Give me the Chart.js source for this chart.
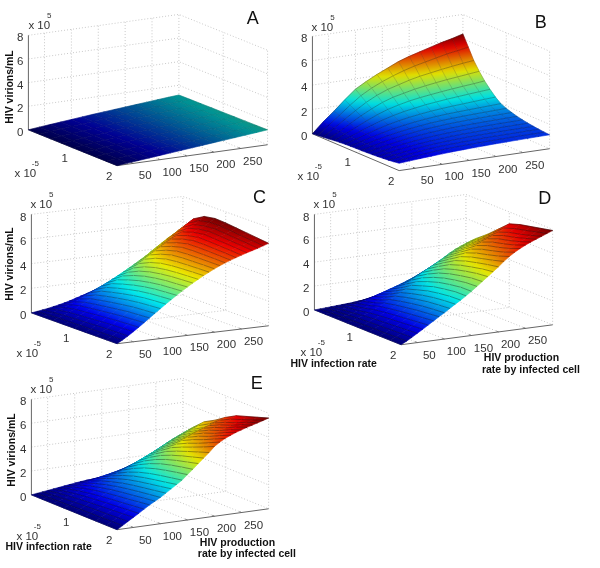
<!DOCTYPE html>
<html>
<head>
<meta charset="utf-8">
<title>HIV virions surfaces</title>
<script src="https://cdn.jsdelivr.net/npm/chart.js@4"></script>
<style>
html,body{margin:0;padding:0;background:#fff}
canvas{position:absolute}
</style>
</head>
<body>
<script>
// axis ticks
const zTicks = [0, 2, 4, 6, 8];
const pTicks = [50, 100, 150, 200, 250];
const bTicks = [1, 2];
const pRange = [20, 300];
const bRange = [0, 2];
const zTop = 8;

// grid positions of the surfaces (infection rate x 10^-5, production rate)
const bRows9 = [0, .25, .5, .75, 1, 1.25, 1.5, 1.75, 2];
const bRows17 = [0, .125, .25, .375, .5, .625, .75, .875, 1, 1.125, 1.25, 1.375, 1.5, 1.625, 1.75, 1.875, 2];
const pCols15 = [20, 40, 60, 80, 100, 120, 140, 160, 180, 200, 220, 240, 260, 280, 300];
const pCols29 = [20, 30, 40, 50, 60, 70, 80, 90, 100, 110, 120, 130, 140, 150, 160, 170, 180, 190, 200, 210, 220, 230, 240, 250, 260, 270, 280, 290, 300];

// virions/mL x 10^5, one row per infection rate
const zA = [
[0,.1,.19,.28,.37,.46,.55,.63,.71,.79,.87,.95,1.03,1.11,1.18],
[0,.1,.19,.28,.37,.46,.55,.63,.72,.8,.88,.96,1.04,1.12,1.19],
[0,.1,.19,.28,.37,.46,.55,.64,.72,.8,.89,.97,1.05,1.13,1.2],
[0,.09,.19,.28,.37,.46,.55,.64,.72,.81,.89,.97,1.05,1.13,1.21],
[0,.09,.18,.28,.37,.46,.55,.64,.72,.81,.89,.98,1.06,1.14,1.22],
[0,.09,.18,.27,.37,.46,.55,.64,.72,.81,.9,.98,1.06,1.15,1.23],
[0,.09,.18,.27,.36,.46,.55,.64,.72,.81,.9,.98,1.07,1.15,1.24],
[0,.09,.18,.27,.36,.45,.54,.63,.72,.81,.9,.99,1.07,1.16,1.25],
[0,.09,.18,.27,.36,.45,.54,.63,.72,.81,.9,.99,1.08,1.17,1.26]
];
const zB = [
[0,.85,1.6,2.4,3.15,3.65,4.1,4.5,4.9,5.2,5.45,5.7,5.95,6.15,6.4],
[.05,.75,1.45,2.15,2.8,3.3,3.7,4.05,4.35,4.6,4.8,5,5.2,5.35,5.5],
[.1,.7,1.3,1.9,2.45,2.9,3.25,3.5,3.75,3.95,4.1,4.25,4.38,4.5,4.6],
[.14,.62,1.15,1.65,2.1,2.5,2.8,3,3.2,3.35,3.48,3.6,3.7,3.8,3.9],
[.2,.6,1,1.42,1.8,2.12,2.35,2.55,2.7,2.82,2.93,3.03,3.12,3.2,3.3],
[.24,.58,.92,1.25,1.55,1.8,2,2.15,2.3,2.4,2.5,2.58,2.66,2.73,2.8],
[.28,.56,.85,1.12,1.36,1.55,1.72,1.85,1.96,2.05,2.12,2.18,2.24,2.3,2.35],
[.3,.55,.8,1.02,1.22,1.38,1.52,1.63,1.72,1.79,1.84,1.88,1.92,1.96,2],
[.32,.55,.77,.97,1.14,1.28,1.4,1.5,1.57,1.63,1.67,1.71,1.74,1.77,1.8],
[.33,.55,.75,.93,1.08,1.2,1.31,1.39,1.46,1.51,1.55,1.58,1.61,1.63,1.65],
[.35,.55,.73,.89,1.03,1.14,1.23,1.3,1.36,1.4,1.43,1.46,1.48,1.5,1.52],
[.37,.55,.72,.87,.99,1.09,1.17,1.23,1.28,1.32,1.35,1.37,1.39,1.41,1.42],
[.4,.56,.72,.85,.96,1.05,1.12,1.18,1.22,1.25,1.28,1.3,1.32,1.33,1.34],
[.44,.58,.72,.84,.94,1.02,1.08,1.13,1.17,1.2,1.22,1.24,1.25,1.26,1.27],
[.48,.6,.73,.84,.93,1,1.05,1.09,1.12,1.15,1.17,1.19,1.2,1.21,1.22],
[.54,.63,.74,.83,.91,.97,1.02,1.05,1.08,1.1,1.12,1.14,1.15,1.16,1.17],
[.6,.67,.74,.8,.86,.91,.95,.99,1.02,1.05,1.07,1.09,1.11,1.13,1.14]
];
const zC = [
[0,.06,.13,.2,.29,.38,.48,.6,.74,.87,1,1.13,1.26,1.4,1.55,1.75,2,2.25,2.5,2.78,3.1,3.42,3.8,4.1,4.4,4.7,4.95,5.25,5.5],
[0,.11,.24,.38,.54,.71,.89,1.08,1.28,1.49,1.7,1.92,2.14,2.37,2.6,2.85,3.1,3.36,3.63,3.9,4.18,4.46,4.74,5.02,5.3,5.6,5.9,6.2,6.5],
[0,.15,.32,.51,.72,.94,1.17,1.41,1.66,1.92,2.17,2.43,2.69,2.95,3.2,3.5,3.8,4.1,4.4,4.68,4.96,5.22,5.48,5.72,5.96,6.2,6.44,6.72,7],
[0,.17,.36,.57,.8,1.05,1.31,1.58,1.86,2.14,2.42,2.7,2.99,3.3,3.6,3.9,4.2,4.49,4.77,5.04,5.3,5.55,5.79,6.02,6.24,6.45,6.65,6.9,7.15],
[0,.19,.4,.63,.88,1.15,1.43,1.73,2.03,2.33,2.63,2.93,3.24,3.55,3.85,4.15,4.45,4.74,5.02,5.28,5.53,5.76,5.98,6.19,6.38,6.56,6.73,6.92,7.1],
[0,.21,.44,.69,.96,1.25,1.55,1.86,2.18,2.5,2.81,3.11,3.41,3.71,4,4.29,4.57,4.84,5.1,5.34,5.57,5.78,5.98,6.16,6.33,6.49,6.65,6.82,7],
[0,.23,.47,.74,1.03,1.34,1.66,1.98,2.3,2.62,2.93,3.23,3.53,3.82,4.1,4.37,4.63,4.88,5.12,5.35,5.56,5.76,5.94,6.11,6.27,6.42,6.57,6.73,6.9],
[0,.24,.5,.78,1.08,1.39,1.72,2.04,2.37,2.69,3,3.3,3.59,3.87,4.15,4.41,4.67,4.91,5.14,5.35,5.55,5.73,5.9,6.06,6.21,6.36,6.5,6.65,6.8],
[0,.25,.52,.82,1.13,1.45,1.78,2.1,2.43,2.75,3.06,3.36,3.65,3.93,4.2,4.45,4.7,4.93,5.15,5.35,5.53,5.7,5.85,6,6.14,6.27,6.4,6.55,6.7]
];
const zD = [
[0,.02,.05,.08,.11,.14,.17,.2,.24,.29,.35,.42,.5,.6,.72,.85,1,1.15,1.3,1.5,1.7,1.95,2.25,2.6,2.9,3.15,3.4,3.65,3.9],
[0,.06,.13,.21,.31,.42,.54,.67,.81,.95,1.1,1.25,1.4,1.55,1.7,1.87,2.05,2.25,2.47,2.7,2.95,3.2,3.47,3.75,4,4.2,4.38,4.54,4.7],
[0,.09,.19,.3,.43,.58,.74,.91,1.08,1.27,1.46,1.66,1.87,2.13,2.4,2.66,2.92,3.16,3.4,3.63,3.85,4.07,4.28,4.48,4.67,4.85,5.03,5.21,5.4],
[0,.13,.28,.44,.62,.82,1.03,1.25,1.48,1.71,1.95,2.19,2.44,2.69,2.95,3.21,3.47,3.73,3.98,4.22,4.46,4.69,4.91,5.12,5.32,5.52,5.72,5.96,6.2],
[0,.16,.33,.52,.73,.95,1.19,1.44,1.7,1.96,2.22,2.48,2.75,3.05,3.35,3.65,3.95,4.24,4.52,4.79,5.05,5.3,5.54,5.77,5.99,6.2,6.42,6.7,7],
[0,.18,.37,.58,.81,1.06,1.32,1.59,1.87,2.16,2.45,2.75,3.05,3.35,3.65,3.95,4.25,4.55,4.84,5.12,5.39,5.65,5.9,6.13,6.35,6.56,6.77,7.03,7.3],
[0,.2,.41,.64,.89,1.16,1.44,1.73,2.02,2.32,2.62,2.92,3.22,3.54,3.85,4.16,4.47,4.77,5.07,5.35,5.62,5.88,6.12,6.35,6.57,6.78,6.98,7.24,7.5],
[0,.22,.45,.7,.97,1.25,1.54,1.83,2.12,2.42,2.73,3.04,3.36,3.68,4,4.33,4.65,4.97,5.28,5.58,5.87,6.14,6.39,6.62,6.84,7.05,7.25,7.48,7.7],
[0,.24,.5,.78,1.06,1.35,1.64,1.93,2.2,2.5,2.8,3.08,3.38,3.7,4.05,4.4,4.75,5.1,5.45,5.85,6.2,6.5,6.75,6.98,7.18,7.36,7.54,7.72,7.9]
];
const zE = [
[0,.06,.12,.18,.24,.3,.36,.42,.48,.54,.58,.6,.63,.65,.67,.7,.76,.9,1.1,1.3,1.52,1.75,2,2.25,2.5,2.75,2.98,3.2,3.4],
[0,.1,.2,.31,.42,.53,.64,.75,.86,.97,1.08,1.19,1.3,1.4,1.5,1.62,1.76,1.93,2.12,2.33,2.55,2.78,3.02,3.26,3.5,3.7,3.9,4.1,4.3],
[0,.14,.28,.43,.58,.73,.88,1.03,1.18,1.33,1.48,1.64,1.8,2,2.2,2.41,2.62,2.83,3.04,3.25,3.46,3.67,3.87,4.06,4.25,4.43,4.6,4.85,5.1],
[0,.17,.35,.53,.71,.89,1.07,1.25,1.43,1.62,1.82,2.03,2.25,2.5,2.75,3,3.24,3.47,3.69,3.9,4.1,4.29,4.47,4.64,4.8,4.96,5.12,5.36,5.6],
[0,.2,.4,.6,.81,1.02,1.23,1.44,1.65,1.87,2.1,2.34,2.6,2.9,3.2,3.48,3.76,4.03,4.29,4.53,4.76,4.97,5.17,5.36,5.54,5.7,5.86,6.03,6.2],
[0,.22,.44,.66,.89,1.12,1.35,1.58,1.81,2.05,2.3,2.57,2.86,3.2,3.55,3.85,4.14,4.42,4.7,4.96,5.2,5.42,5.62,5.8,5.97,6.12,6.27,6.48,6.7],
[0,.24,.48,.72,.96,1.21,1.46,1.7,1.95,2.2,2.47,2.75,3.06,3.43,3.8,4.13,4.45,4.76,5.06,5.32,5.56,5.77,5.96,6.14,6.3,6.45,6.6,6.8,7],
[0,.26,.52,.78,1.04,1.31,1.58,1.83,2.08,2.35,2.63,2.92,3.23,3.62,4,4.36,4.72,5.08,5.44,5.73,5.98,6.2,6.4,6.57,6.73,6.87,7.01,7.15,7.3],
[0,.28,.56,.84,1.12,1.41,1.7,1.95,2.2,2.5,2.8,3.1,3.4,3.8,4.18,4.6,5,5.4,5.85,6.15,6.4,6.6,6.78,6.93,7.07,7.2,7.33,7.46,7.6]
];

// O = left floor corner, F = front floor corner, R = right floor corner, H = box height (page px)
// meshP / meshB = strength of the lines of constant production / constant infection rate
const panels = [
  {name:'A', box:[0,0,295,190], O:[28,130], F:[117,166], R:[268,145], H:95, b:bRows9, p:pCols15, z:zA, cMax:3.1, shade:.58, meshP:.1, meshB:.1,
   letter:[253,19], zExp:[28,25], bExp:[14,174], yLabel:[10,87]},
  {name:'B', box:[290,0,300,190], O:[312,134], F:[399,171], R:[550,149], H:98, b:bRows17, p:pCols15, z:zB, cMax:6.4, shade:.88, meshP:.2, meshB:.35,
   letter:[541,23], zExp:[311,27], bExp:[297,177]},
  {name:'C', box:[0,190,295,190], O:[31,313], F:[117,344], R:[269,326], H:99, b:bRows9, p:pCols29, z:zC, cMax:7.1, shade:.92, meshP:.4, meshB:.06,
   letter:[260,198], zExp:[30,204], bExp:[16,354], yLabel:[10,264]},
  {name:'D', box:[290,190,310,200], O:[314,310], F:[401,345], R:[553,325], H:96, b:bRows9, p:pCols29, z:zD, cMax:7.9, shade:.9, meshP:.45, meshB:.06,
   letter:[545,199], zExp:[313,204], bExp:[300,353],
   xTitle:[[290,364,'HIV infection rate']], pTitle:[[484,358,'HIV production'],[482,371,'rate by infected cell']]},
  {name:'E', box:[0,365,310,203], O:[31,495], F:[117,530], R:[269,509], H:96, b:bRows9, p:pCols29, z:zE, cMax:7.6, shade:.9, meshP:.45, meshB:.06,
   letter:[257,384], zExp:[30,389], bExp:[16,537], yLabel:[12,450],
   xTitle:[[5,548,'HIV infection rate']], pTitle:[[200,543,'HIV production'],[198,555,'rate by infected cell']]}
];

function project(pn, b, p, z) {
  const s = (b - bRange[0]) / (bRange[1] - bRange[0]);
  const t = (p - pRange[0]) / (pRange[1] - pRange[0]);
  return {
    x: pn.O[0] + (pn.F[0] - pn.O[0]) * s + (pn.R[0] - pn.F[0]) * t,
    y: pn.O[1] + (pn.F[1] - pn.O[1]) * s + (pn.R[1] - pn.F[1]) * t - z / zTop * pn.H
  };
}

function jet(v, shade) {
  v = Math.max(0, Math.min(1, v));
  const ch = d => Math.max(0, Math.min(1, 1.5 - Math.abs(4 * v - d)));
  return 'rgb(' + [ch(3), ch(2), ch(1)].map(c => Math.round(c * 255 * shade)).join(',') + ')';
}

// gradient over one cell, following the slope of z across it
function cellFill(chart, pn, pts, zs) {
  const sx = chart.scales.x, sy = chart.scales.y;
  const flat = jet((Math.min(...zs) + Math.max(...zs)) / 2 / pn.cMax, pn.shade);
  if (!sx || !sy || !sx.width) return flat; // not laid out yet
  const px = pts.map(q => [sx.getPixelForValue(q.x), sy.getPixelForValue(q.y)]);
  const e1 = [px[1][0] - px[0][0], px[1][1] - px[0][1]], e2 = [px[3][0] - px[0][0], px[3][1] - px[0][1]];
  const d1 = (zs[1] + zs[2] - zs[0] - zs[3]) / 2, d2 = (zs[3] + zs[2] - zs[0] - zs[1]) / 2;
  const det = e1[0] * e2[1] - e1[1] * e2[0];
  const lo = Math.min(...zs), hi = Math.max(...zs);
  if (!isFinite(det) || Math.abs(det) < 1e-6 || hi - lo < 1e-6) return flat;
  const gx = (d1 * e2[1] - d2 * e1[1]) / det, gy = (e1[0] * d2 - e2[0] * d1) / det;
  const g2 = gx * gx + gy * gy;
  if (g2 < 1e-9) return flat;
  const a = (lo - zs[0]) / g2, c = (hi - zs[0]) / g2;
  const grad = chart.ctx.createLinearGradient(px[0][0] + gx * a, px[0][1] + gy * a, px[0][0] + gx * c, px[0][1] + gy * c);
  for (let k = 0; k <= 3; k++) grad.addColorStop(k / 3, jet((lo + (hi - lo) * k / 3) / pn.cMax, pn.shade));
  return grad;
}

function wire(pts, color, dash, width) {
  return {data: pts, showLine: true, pointRadius: 0, borderColor: color, borderWidth: width || 1, borderDash: dash || [], fill: false, tension: 0, clip: false};
}

function buildDatasets(pn) {
  const sets = [];
  const n = pn.b.length, m = pn.p.length;
  // front cells first: Chart.js paints the first dataset last
  for (let i = n - 2; i >= 0; i--) {
    for (let j = 0; j < m - 1; j++) {
      const zs = [pn.z[i][j], pn.z[i][j + 1], pn.z[i + 1][j + 1], pn.z[i + 1][j]];
      const pts = [project(pn, pn.b[i], pn.p[j], zs[0]), project(pn, pn.b[i], pn.p[j + 1], zs[1]),
                   project(pn, pn.b[i + 1], pn.p[j + 1], zs[2]), project(pn, pn.b[i + 1], pn.p[j], zs[3])];
      const paint = c => cellFill(c.chart, pn, pts, zs);
      // edges shared with cells that are painted earlier, so they stay on top
      sets.push(wire([pts[1], pts[2]], 'rgba(0,0,0,' + pn.meshP + ')', [], .8));
      sets.push(wire([pts[0], pts[1]], 'rgba(0,0,0,' + pn.meshB + ')', [], .8));
      sets.push({
        data: pts.concat([pts[0]]), showLine: true, pointRadius: 0, tension: 0, clip: false, fill: 'shape',
        borderWidth: .6, borderColor: paint, backgroundColor: paint
      });
    }
  }
  // axes and dotted walls behind the surface
  const bMin = bRange[0], bMax = bRange[1], pMin = pRange[0], pMax = pRange[1];
  const ax = '#666', gr = '#c8c8c8', dots = [1, 2];
  sets.push(wire([project(pn, bMin, pMin, 0), project(pn, bMin, pMin, zTop)], ax));
  sets.push(wire([project(pn, bMin, pMin, 0), project(pn, bMax, pMin, 0)], ax));
  sets.push(wire([project(pn, bMax, pMin, 0), project(pn, bMax, pMax, 0)], ax));
  zTicks.forEach(z => {
    sets.push(wire([project(pn, bMin, pMin, z), project(pn, bMin, pMax, z), project(pn, bMax, pMax, z)], gr, dots));
  });
  pTicks.forEach(p => {
    sets.push(wire([project(pn, bMax, p, 0), project(pn, bMin, p, 0), project(pn, bMin, p, zTop)], gr, dots));
    sets.push(wire([project(pn, bMax, p, 0), project(pn, bMax - .05, p, 0)], ax));
  });
  sets.push(wire([project(pn, bMin, pMax, 0), project(pn, bMin, pMax, zTop)], gr, dots));
  sets.push(wire([project(pn, bMax, pMax, 0), project(pn, bMax, pMax, zTop)], gr, dots));
  bTicks.slice(0, 1).forEach(b => {
    sets.push(wire([project(pn, b, pMin, 0), project(pn, b, pMax, 0), project(pn, b, pMax, zTop)], gr, dots));
  });
  return sets;
}

const labelsPlugin = {
  id: 'labels3d',
  afterDraw(chart, args, opts) {
    const pn = opts.panel, ctx = chart.ctx;
    const sx = chart.scales.x, sy = chart.scales.y;
    const text = (str, x, y, font, color, align) => {
      ctx.font = font;
      ctx.fillStyle = color || '#333';
      ctx.textAlign = align || 'center';
      ctx.textBaseline = 'middle';
      ctx.fillText(str, sx.getPixelForValue(x), sy.getPixelForValue(y));
    };
    const tickFont = '11.5px "Liberation Sans", Arial, sans-serif';
    const boldFont = 'bold 10.5px "Liberation Sans", Arial, sans-serif';
    zTicks.forEach(z => {
      const q = project(pn, bRange[0], pRange[0], z);
      text(String(z), q.x - 5, q.y + 3, tickFont, '#333', 'right');
    });
    pTicks.forEach(p => {
      const q = project(pn, bRange[1], p, 0);
      text(String(p), q.x + 12, q.y + 13, tickFont);
    });
    bTicks.forEach(b => {
      const q = project(pn, b, pRange[0], 0);
      text(String(b), q.x - 8, q.y + 11, tickFont);
    });
    text('x 10', pn.zExp[0], pn.zExp[1], tickFont, '#333', 'left');
    text('5', pn.zExp[0] + 21, pn.zExp[1] - 10, '8px "Liberation Sans", Arial, sans-serif', '#333');
    text('x 10', pn.bExp[0], pn.bExp[1], tickFont, '#333', 'left');
    text('-5', pn.bExp[0] + 21, pn.bExp[1] - 10, '8px "Liberation Sans", Arial, sans-serif', '#333');
    text(pn.name, pn.letter[0], pn.letter[1], '18px "Liberation Sans", Arial, sans-serif', '#111');
    if (pn.yLabel) {
      ctx.save();
      ctx.translate(sx.getPixelForValue(pn.yLabel[0]), sy.getPixelForValue(pn.yLabel[1]));
      ctx.rotate(-Math.PI / 2);
      ctx.font = boldFont;
      ctx.fillStyle = '#111';
      ctx.textAlign = 'center';
      ctx.textBaseline = 'middle';
      ctx.fillText('HIV virions/mL', 0, 0);
      ctx.restore();
    }
    (pn.xTitle || []).concat(pn.pTitle || []).forEach(l => text(l[2], l[0], l[1], boldFont, '#111', 'left'));
  }
};

panels.forEach(pn => {
  const canvas = document.createElement('canvas');
  canvas.style.left = pn.box[0] + 'px';
  canvas.style.top = pn.box[1] + 'px';
  canvas.width = pn.box[2];
  canvas.height = pn.box[3];
  document.body.appendChild(canvas);
  const chart = new Chart(canvas, {
    type: 'scatter',
    data: {datasets: buildDatasets(pn)},
    options: {
      responsive: false,
      animation: false,
      events: [],
      layout: {padding: 0},
      scales: {
        x: {type: 'linear', display: false, min: pn.box[0], max: pn.box[0] + pn.box[2]},
        y: {type: 'linear', display: false, reverse: true, min: pn.box[1], max: pn.box[1] + pn.box[3]}
      },
      plugins: {legend: {display: false}, tooltip: {enabled: false}, labels3d: {panel: pn}}
    },
    plugins: [labelsPlugin]
  });
  chart.update(); // second pass so cell gradients see the laid-out scales
});
</script>
</body>
</html>
